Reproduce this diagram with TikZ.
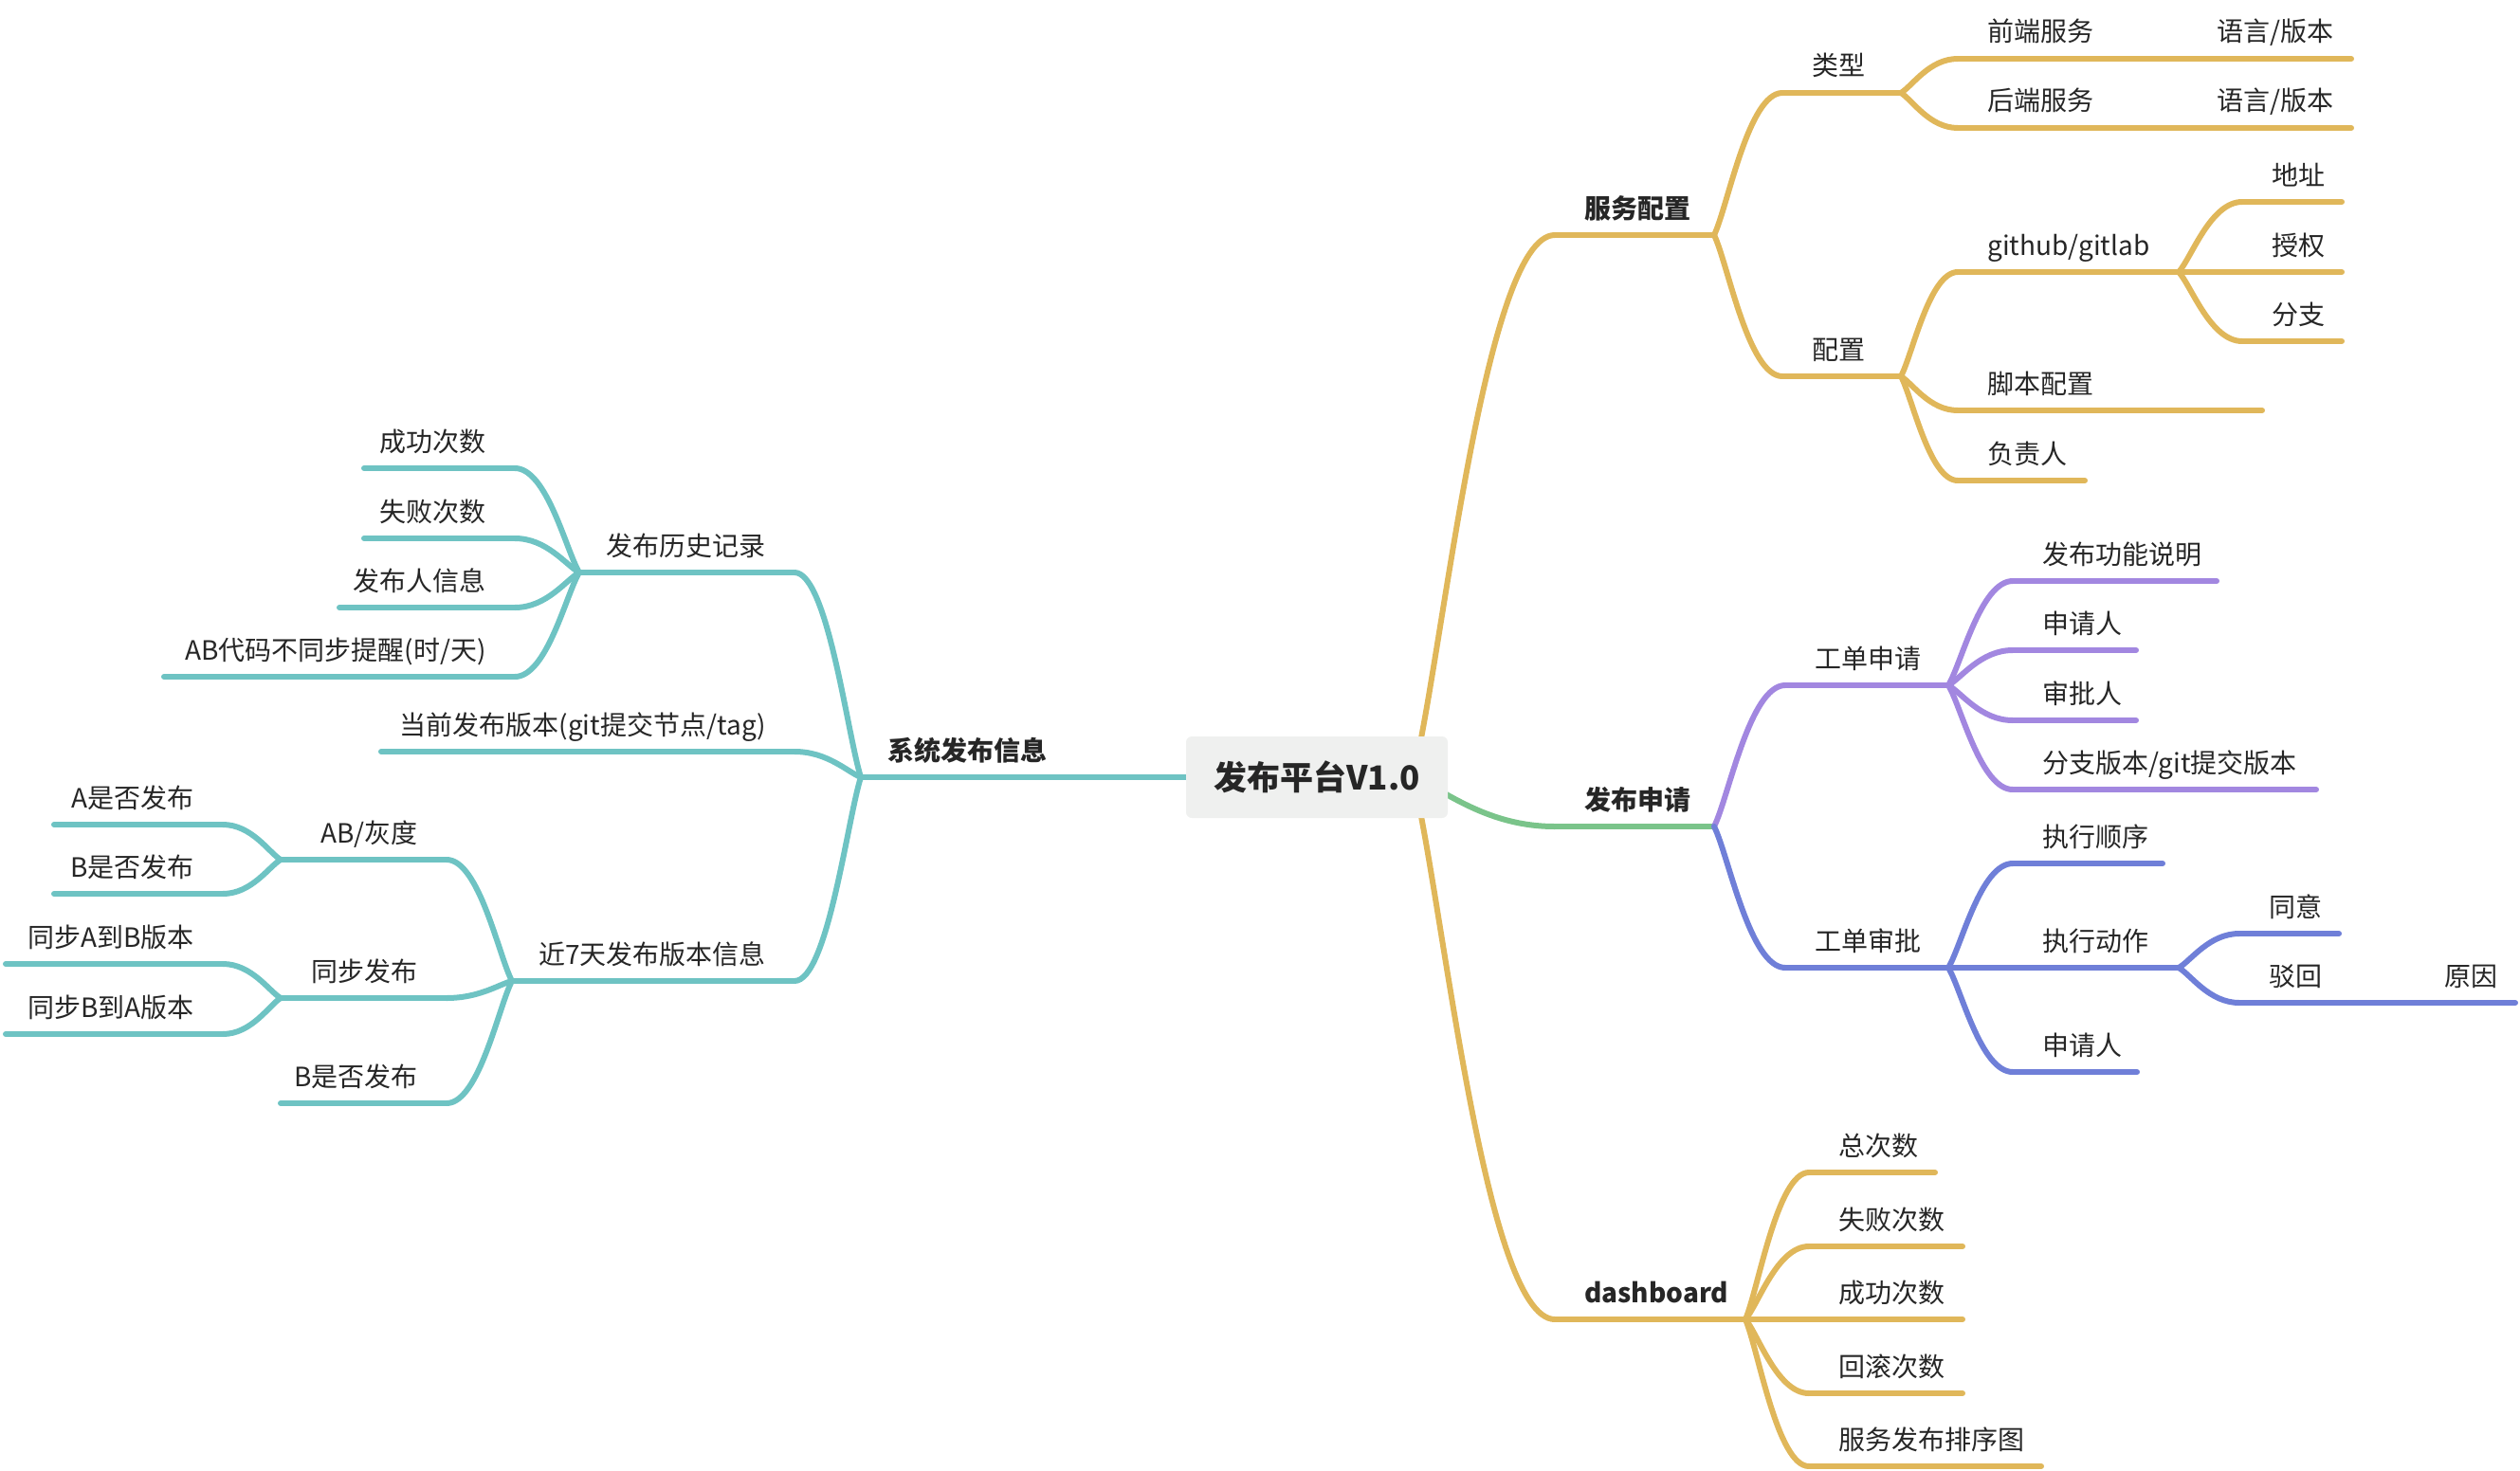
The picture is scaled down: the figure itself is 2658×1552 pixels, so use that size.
\documentclass[tikz,border=0pt]{standalone}
\usepackage{fontspec}
\setmainfont{Noto Sans CJK SC}
\usetikzlibrary{calc,backgrounds}

\definecolor{mmyellow}{HTML}{E0B75A}
\definecolor{mmgreen}{HTML}{7AC48A}
\definecolor{mmpurple}{HTML}{A287E0}
\definecolor{mmblue}{HTML}{6F7FD8}
\definecolor{mmteal}{HTML}{6EC3C3}
\definecolor{mmroot}{HTML}{EFF0EF}
\definecolor{mmtext}{HTML}{262626}

% topic on the right: name, x of start, x of end, y of underline, text
\newcommand{\rtopic}[6][]{%
  \coordinate (#2S) at (#3,#5);
  \coordinate (#2E) at (#4,#5);
  \draw[link] (#2S) -- (#2E);
  \node[topic,#1,anchor=base west] (#2) at (#3+31,#5-18) {#6};
}
% topic on the left, text sits at the end next to the parent
\newcommand{\ltopic}[6][]{%
  \coordinate (#2S) at (#3,#5);
  \coordinate (#2E) at (#4,#5);
  \draw[link] (#2S) -- (#2E);
  \node[topic,#1,anchor=base east] (#2) at (#3-30,#5-18) {#6};
}
\newcommand{\branch}[2]{%
  \draw[link] (#1) .. controls ($(#1)!0.2!(#2)$) and ($(#2)!0.5!(#2 -| #1)$) .. (#2);
}

\begin{document}
\begin{tikzpicture}[x=1pt, y=-1pt,
    topic/.style={font=\fontsize{28}{34}\selectfont, text=mmtext, inner sep=0pt},
    main/.style={font=\fontsize{28}{34}\selectfont\bfseries},
    link/.style={line width=6pt, line cap=round},
    rootbox/.style={fill=mmroot, rounded corners=6pt, minimum width=276pt, minimum height=86pt,
      text=mmtext, font=\fontsize{35}{42}\selectfont\bfseries}]
  \useasboundingbox (0,0) rectangle (2658,1552);
  \node[rootbox] (root) at (1389,820) {发布平台V1.0};
  \coordinate (hub) at (1490,820);

  \begin{scope}[on background layer]
    % 服务配置
    \begin{scope}[mmyellow]
      \rtopic[main]{fw}{1640}{1808}{248}{服务配置}
      \branch{hub}{fwS}
      \rtopic{lx}{1880}{2005}{98}{类型}
      \branch{fwE}{lxS}
      \rtopic{qd}{2065}{2307}{62}{前端服务}
      \branch{lxE}{qdS}
      \rtopic{yq}{2307}{2480}{62}{语言/版本}
      \rtopic{hd}{2065}{2307}{135}{后端服务}
      \branch{lxE}{hdS}
      \rtopic{yh}{2307}{2480}{135}{语言/版本}
      \rtopic{pz}{1880}{2005}{397}{配置}
      \branch{fwE}{pzS}
      \rtopic{gh}{2065}{2298}{287}{github/gitlab}
      \branch{pzE}{ghS}
      \rtopic{dz}{2365}{2470}{213}{地址}
      \branch{ghE}{dzS}
      \rtopic{sq}{2365}{2470}{287}{授权}
      \branch{ghE}{sqS}
      \rtopic{fz}{2365}{2470}{360}{分支}
      \branch{ghE}{fzS}
      \rtopic{jb}{2065}{2386}{433}{脚本配置}
      \branch{pzE}{jbS}
      \rtopic{fr}{2065}{2199}{507}{负责人}
      \branch{pzE}{frS}
    \end{scope}

    % 发布申请
    \begin{scope}[mmgreen]
      \rtopic[main]{fs}{1640}{1808}{872}{发布申请}
      \branch{hub}{fsS}
    \end{scope}
    \begin{scope}[mmpurple]
      \rtopic{gs}{1883}{2055}{723}{工单申请}
      \branch{fsE}{gsS}
      \rtopic{gn}{2123}{2338}{613}{发布功能说明}
      \branch{gsE}{gnS}
      \rtopic{sr}{2123}{2253}{686}{申请人}
      \branch{gsE}{srS}
      \rtopic{sp}{2123}{2253}{760}{审批人}
      \branch{gsE}{spS}
      \rtopic{bb}{2123}{2443}{833}{分支版本/git提交版本}
      \branch{gsE}{bbS}
    \end{scope}
    \begin{scope}[mmblue]
      \rtopic{gp}{1883}{2055}{1021}{工单审批}
      \branch{fsE}{gpS}
      \rtopic{sx}{2123}{2281}{911}{执行顺序}
      \branch{gpE}{sxS}
      \rtopic{dzo}{2123}{2298}{1021}{执行动作}
      \branch{gpE}{dzoS}
      \rtopic{ty}{2362}{2467}{985}{同意}
      \branch{dzoE}{tyS}
      \rtopic{bh}{2362}{2547}{1058}{驳回}
      \branch{dzoE}{bhS}
      \rtopic{yy}{2547}{2653}{1058}{原因}
      \rtopic{sr2}{2123}{2254}{1131}{申请人}
      \branch{gpE}{sr2S}
    \end{scope}

    % dashboard
    \begin{scope}[mmyellow]
      \rtopic[main]{db}{1640}{1841}{1392}{dashboard}
      \branch{hub}{dbS}
      \rtopic{zc}{1908}{2041}{1237}{总次数}
      \branch{dbE}{zcS}
      \rtopic{sb}{1908}{2070}{1315}{失败次数}
      \branch{dbE}{sbS}
      \rtopic{cg}{1908}{2070}{1392}{成功次数}
      \branch{dbE}{cgS}
      \rtopic{hg}{1908}{2070}{1470}{回滚次数}
      \branch{dbE}{hgS}
      \rtopic{px}{1908}{2153}{1547}{服务发布排序图}
      \branch{dbE}{pxS}
    \end{scope}

    % 系统发布信息
    \begin{scope}[mmteal]
      \ltopic[main]{xt}{1135}{908}{820}{系统发布信息}
      \draw[link] (root.west) -- (xtS);
      \ltopic{ls}{838}{611}{604}{发布历史记录}
      \branch{xtE}{lsS}
      \ltopic{cs}{543}{384}{494}{成功次数}
      \branch{lsE}{csS}
      \ltopic{ss}{543}{384}{568}{失败次数}
      \branch{lsE}{ssS}
      \ltopic{fx}{543}{358}{641}{发布人信息}
      \branch{lsE}{fxS}
      \ltopic{tx}{543}{173}{714}{AB代码不同步提醒(时/天)}
      \branch{lsE}{txS}
      \ltopic{dq}{838}{402}{793}{当前发布版本(git提交节点/tag)}
      \branch{xtE}{dqS}
      \ltopic{j7}{838}{540}{1035}{近7天发布版本信息}
      \branch{xtE}{j7S}
      \ltopic{hu}{471}{296}{907}{AB/灰度}
      \branch{j7E}{huS}
      \ltopic{af}{235}{57}{870}{A是否发布}
      \branch{huE}{afS}
      \ltopic{bf}{235}{57}{943}{B是否发布}
      \branch{huE}{bfS}
      \ltopic{tf}{471}{296}{1053}{同步发布}
      \branch{j7E}{tfS}
      \ltopic{ab}{235}{6}{1017}{同步A到B版本}
      \branch{tfE}{abS}
      \ltopic{ba}{235}{6}{1091}{同步B到A版本}
      \branch{tfE}{baS}
      \ltopic{b7}{471}{296}{1164}{B是否发布}
      \branch{j7E}{b7S}
    \end{scope}
  \end{scope}
\end{tikzpicture}
\end{document}
